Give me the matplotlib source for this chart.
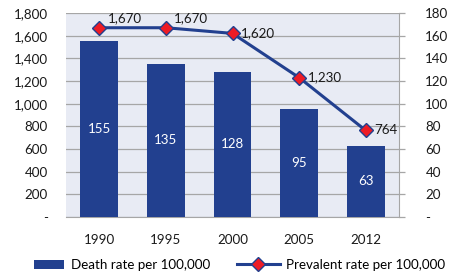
import matplotlib
matplotlib.use("Agg")
import matplotlib.pyplot as plt
from matplotlib.ticker import FuncFormatter
from matplotlib.patches import Rectangle
from matplotlib.legend_handler import HandlerPatch

years = ["1990", "1995", "2000", "2005", "2012"]
death_rate = [155, 135, 128, 95, 63]
prevalent_rate = [1670, 1670, 1620, 1230, 764]

plt.rcParams['font.family'] = ['Lato', 'DejaVu Sans']
fs = 9.6
blue = "#22408F"
bg = "#E8EBF4"
grid = "#A6A6A6"
txt = "#1a1a1a"

fig = plt.figure(figsize=(4.58, 2.74), dpi=100)
ax = fig.add_axes([66/458, 57/274, 333/458, 204/274])
ax2 = ax.twinx()

x = list(range(len(years)))
bars = ax2.bar(x, death_rate, width=0.565, color=blue, zorder=2)
for xi, v in zip(x, death_rate):
    ax2.text(xi, v/2, str(v), ha='center', va='center', color='white', fontsize=fs)
ax2.set_ylim(0, 180)
ax2.set_yticks(range(0, 181, 20))
ax2.yaxis.set_major_formatter(FuncFormatter(lambda v, p: "-" if v == 0 else f"{int(v)}"))

ax.set_ylim(0, 1800)
ax.set_yticks(range(0, 1801, 200))
ax.yaxis.set_major_formatter(FuncFormatter(lambda v, p: "-" if v == 0 else f"{int(v):,}"))
ax.set_facecolor(bg)
ax.grid(axis='y', color=grid, linewidth=0.9, zorder=0)
ax.set_axisbelow(True)
ax.set_xlim(-0.5, 4.5)
ax.set_xticks(x)
ax.set_xticklabels(years)

ax3 = ax.twinx()
ax3.set_ylim(0, 1800)
ax3.axis('off')
ln, = ax3.plot(x, prevalent_rate, color=blue, linewidth=2.2, marker='D', markersize=7,
               markerfacecolor='#EE1C25', markeredgecolor=blue, markeredgewidth=1.0,
               zorder=5)
offsets = [(6, 7), (6, 7), (6, 0), (6, 0), (6, 0)]
for xi, v, (dx, dy) in zip(x, prevalent_rate, offsets):
    ax3.annotate(f"{v:,}", (xi, v), xytext=(dx, dy), textcoords='offset points',
                 ha='left', va='center', fontsize=fs, color=txt)

for a in (ax, ax2, ax3):
    for s in a.spines.values():
        s.set_visible(False)
ax.spines['bottom'].set_visible(True)
ax.spines['bottom'].set_color(grid)
ax2.spines['right'].set_visible(True)
ax2.spines['right'].set_color(grid)

ax.tick_params(axis='y', length=0, pad=13, labelsize=fs, colors=txt)
ax.tick_params(axis='x', length=0, pad=12, labelsize=fs, colors=txt)
ax2.tick_params(axis='y', length=4, width=0.9, color=grid, pad=15, labelsize=fs, labelcolor=txt)

def bar_patch(legend, orig_handle, xdescent, ydescent, width, height, fontsize):
    w = width * 0.72
    h = height * 0.9
    return Rectangle((width - w - xdescent, (height - h) / 2 - ydescent), w, h)

fig.legend([bars[0], ln], ["Death rate per 100,000", "Prevalent rate per 100,000"],
           loc='center', bbox_to_anchor=(0.51, 9/274), ncol=2, frameon=False,
           fontsize=fs, handlelength=3.2, columnspacing=2.0, handletextpad=0.5,
           handler_map={bars[0]: HandlerPatch(patch_func=bar_patch)})

fig.savefig("out.png", dpi=100)
